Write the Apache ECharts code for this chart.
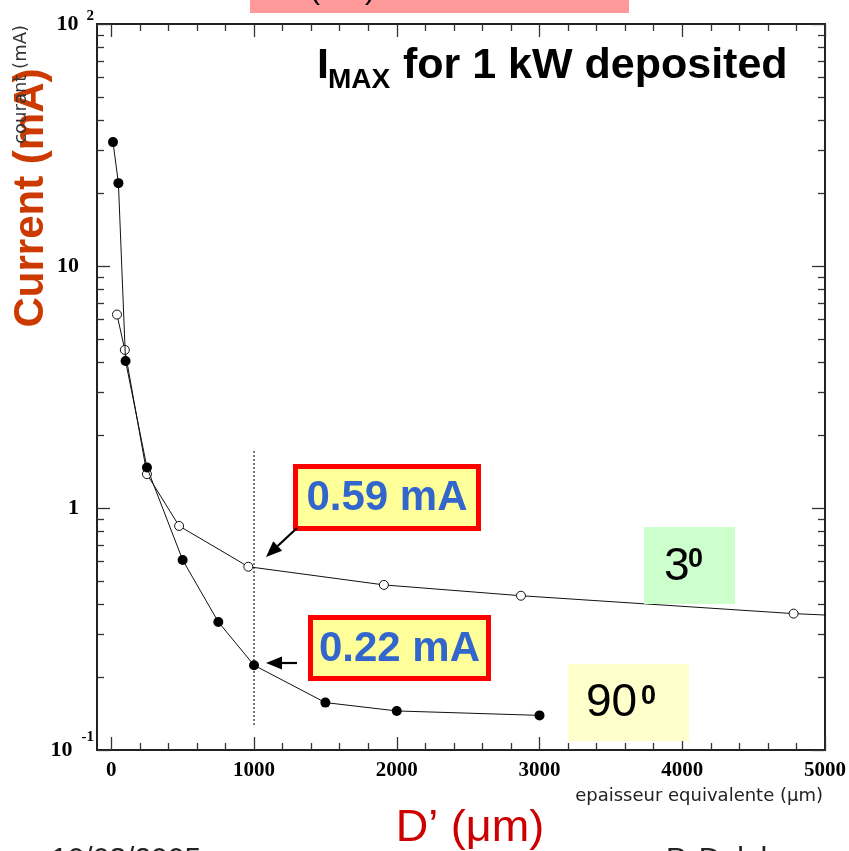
<!DOCTYPE html>
<html><head><meta charset="utf-8">
<script src="https://cdn.jsdelivr.net/npm/echarts@6/dist/echarts.min.js"></script>
<style>html,body{margin:0;padding:0;background:#fff}#c{width:849px;height:851px}</style>
</head><body><div id="c"></div>
<script>
// ---- data ----
const xMajorTicks = [0, 1000, 2000, 3000, 4000, 5000];
const xMinorTicks = [200, 400, 600, 800, 1200, 1400, 1600, 1800, 2200, 2400, 2600, 2800,
                     3200, 3400, 3600, 3800, 4200, 4400, 4600, 4800];
const yMajorTicks = [0.1, 1, 10, 100];
const yMinorTicks = [0.2, 0.3, 0.4, 0.5, 0.6, 0.7, 0.8, 0.9,
                     2, 3, 4, 5, 6, 7, 8, 9,
                     20, 30, 40, 50, 60, 70, 80, 90];
const thick90 = [12, 50, 100, 250, 500, 750, 1000, 1500, 2000, 3000];
const current90 = [32.5, 22, 4.05, 1.47, 0.61, 0.338, 0.224, 0.157, 0.145, 0.139];
const thick3 = [40, 95, 250, 475, 960, 1910, 2870, 4780, 5200];
const current3 = [6.3, 4.5, 1.38, 0.843, 0.572, 0.481, 0.434, 0.366, 0.357];
const guideX = [1000, 1000];
const guideY = [1.72, 0.127];

const chart = echarts.init(document.getElementById('c'), null, {renderer: 'canvas'});
const AX = '#222', TK = '#333';
const serifB = {fontFamily: 'Liberation Serif', fontWeight: 'bold', color: '#000'};

function xAxisDef(pos, ticks, len, withLabel) {
  return {
    type: 'value', position: pos, min: -100, max: 5000,
    axisLine: {show: true, onZero: false, lineStyle: {color: AX, width: 2}},
    axisTick: {show: true, inside: true, length: len, customValues: ticks, lineStyle: {color: TK, width: 1.3}},
    axisLabel: withLabel ? Object.assign({show: true, customValues: xMajorTicks, fontSize: 21, margin: 10,
      formatter: function (v) { return String(Math.round(v)); }}, serifB) : {show: false},
    splitLine: {show: false}
  };
}
function yAxisDef(pos, ticks, len, withLabel) {
  return {
    type: 'log', logBase: 10, position: pos, min: 0.1, max: 100,
    axisLine: {show: true, onZero: false, lineStyle: {color: AX, width: 2}},
    axisTick: {show: true, inside: true, length: len, customValues: ticks, lineStyle: {color: TK, width: 1.3}},
    axisLabel: withLabel ? {
      show: true, margin: 3,
      formatter: function (v) {
        if (v > 50) return '{n|10}{s2|2}';
        if (v > 5) return '{n|10}{p|}';
        if (v > 0.5) return '{n|1}{p|}';
        return '{n|10}{s1|-1}';
      },
      rich: {
        n: Object.assign({fontSize: 22, lineHeight: 22, verticalAlign: 'bottom'}, serifB),
        s2: Object.assign({fontSize: 15, lineHeight: 15, padding: [0, 0, 11, 8], verticalAlign: 'bottom'}, serifB),
        s1: Object.assign({fontSize: 15, lineHeight: 15, padding: [0, 0, 16, 9], verticalAlign: 'bottom'}, serifB),
        p: {width: 15}
      }
    } : {show: false},
    splitLine: {show: false}
  };
}

function arrowHead(tip, from, len, hw) {
  const dx = tip[0] - from[0], dy = tip[1] - from[1];
  const L = Math.sqrt(dx * dx + dy * dy);
  const ux = dx / L, uy = dy / L;
  const bx = tip[0] - ux * len, by = tip[1] - uy * len;
  return {base: [bx, by], pts: [tip, [bx - uy * hw, by + ux * hw], [bx + uy * hw, by - ux * hw]]};
}
function arrow(from, tip) {
  const h = arrowHead(tip, from, 16, 6.5);
  return [
    {type: 'line', z: 100, shape: {x1: from[0], y1: from[1], x2: h.base[0], y2: h.base[1]}, style: {stroke: '#000', lineWidth: 2.2}},
    {type: 'polygon', z: 100, shape: {points: h.pts}, style: {fill: '#000'}}
  ];
}
function valueBox(x, y, w, h, txt) {
  return [
    {type: 'rect', z: 90, shape: {x: x, y: y, width: w, height: h}, style: {fill: '#ffff99', stroke: '#ff0000', lineWidth: 5}},
    {type: 'text', z: 91, x: x + w / 2, y: y + h / 2 + 1,
     style: {text: txt, fill: '#3366cc', font: 'bold 42px "Liberation Sans", Arial, sans-serif', align: 'center', verticalAlign: 'middle'}}
  ];
}

const graphics = [].concat(
  // pink banner at top (cut off)
  [{type: 'rect', z: 5, shape: {x: 250, y: 0, width: 379, height: 13}, style: {fill: '#ff9999'}},
   {type: 'text', z: 6, x: 310, y: 6, style: {text: '(mA)', fill: '#000', font: '30px "Liberation Sans", Arial', align: 'left', verticalAlign: 'bottom'}}],
  // title
  [{type: 'text', z: 50, x: 317, y: 66, style: {text: 'I', fill: '#000', font: 'bold 43px "Liberation Sans", Arial', verticalAlign: 'middle'}},
   {type: 'text', z: 50, x: 328, y: 80, style: {text: 'MAX', fill: '#000', font: 'bold 28px "Liberation Sans", Arial', verticalAlign: 'middle'}},
   {type: 'text', z: 50, x: 391, y: 66, style: {text: ' for 1 kW deposited', fill: '#000', font: 'bold 43px "Liberation Sans", Arial', verticalAlign: 'middle'}}],
  // axis titles
  [{type: 'text', z: 50, x: 31, y: 198, rotation: Math.PI / 2,
    style: {text: 'Current (mA)', fill: '#cc3a00', font: 'bold 42px "Liberation Sans", Arial', align: 'center', verticalAlign: 'middle'}},
   {type: 'text', z: 51, x: 21, y: 25, rotation: Math.PI / 2,
    style: {text: 'courant (mA)', fill: '#333', font: '18px "DejaVu Sans", sans-serif', align: 'right', verticalAlign: 'middle'}},
   {type: 'text', z: 50, x: 823, y: 796,
    style: {text: 'epaisseur equivalente (\u03bcm)', fill: '#222', font: '18px "DejaVu Sans", sans-serif', align: 'right', verticalAlign: 'middle'}},
   {type: 'text', z: 50, x: 470, y: 829,
    style: {text: 'D\u2019 (\u03bcm)', fill: '#cc0000', font: '45px "Liberation Sans", Arial', align: 'center', verticalAlign: 'middle'}},
   {type: 'text', z: 50, x: 51, y: 845,
    style: {text: '10/03/2005', fill: '#222', font: '30px "Liberation Sans", Arial', align: 'left', verticalAlign: 'top'}},
   {type: 'text', z: 50, x: 666, y: 845,
    style: {text: 'P. Delahaye', fill: '#222', font: '30px "Liberation Sans", Arial', align: 'left', verticalAlign: 'top'}}],
  // value boxes and arrows
  valueBox(295.5, 466.5, 183, 62, '0.59 mA'),
  valueBox(310.5, 617.5, 178, 61, '0.22 mA'),
  arrow([297, 528], [266, 557]),
  arrow([297, 663], [266, 663]),
  // angle labels
  [{type: 'rect', z: 40, shape: {x: 644, y: 527, width: 91, height: 77}, style: {fill: '#ccffcc'}},
   {type: 'text', z: 41, x: 664, y: 567, style: {text: '3', fill: '#000', font: '46px "Liberation Sans", Arial', verticalAlign: 'middle'}},
   {type: 'text', z: 41, x: 688, y: 560, style: {text: '0', fill: '#000', font: 'bold 27px "Liberation Sans", Arial', verticalAlign: 'middle'}},
   {type: 'rect', z: 40, shape: {x: 568, y: 664, width: 121, height: 77}, style: {fill: '#ffffcc'}},
   {type: 'text', z: 41, x: 586, y: 703, style: {text: '90', fill: '#000', font: '46px "Liberation Sans", Arial', verticalAlign: 'middle'}},
   {type: 'text', z: 41, x: 641, y: 697, style: {text: '0', fill: '#000', font: 'bold 27px "Liberation Sans", Arial', verticalAlign: 'middle'}}]
);

const option = {
  backgroundColor: '#fff',
  animation: false,
  grid: {left: 97, right: 24, top: 24, bottom: 101, containLabel: false},
  xAxis: [
    xAxisDef('bottom', xMajorTicks, 13, true),
    xAxisDef('bottom', xMinorTicks, 7, false),
    xAxisDef('top', xMajorTicks, 13, false),
    xAxisDef('top', xMinorTicks, 7, false)
  ],
  yAxis: [
    yAxisDef('left', yMajorTicks, 13, true),
    yAxisDef('left', yMinorTicks, 7, false),
    yAxisDef('right', yMajorTicks, 13, false),
    yAxisDef('right', yMinorTicks, 7, false)
  ],
  series: [
    {
      name: '3 deg', type: 'line', xAxisIndex: 0, yAxisIndex: 0, clip: true, z: 20,
      data: thick3.map((x, i) => [x, current3[i]]),
      symbol: 'circle', symbolSize: 9, showAllSymbol: true,
      lineStyle: {color: '#111', width: 1},
      itemStyle: {color: '#fff', borderColor: '#111', borderWidth: 1}
    },
    {
      name: '90 deg', type: 'line', xAxisIndex: 0, yAxisIndex: 0, clip: true, z: 21,
      data: thick90.map((x, i) => [x, current90[i]]),
      symbol: 'circle', symbolSize: 10, showAllSymbol: true,
      lineStyle: {color: '#111', width: 1},
      itemStyle: {color: '#000', borderColor: '#000', borderWidth: 0}
    },
    {
      name: 'guide', type: 'line', xAxisIndex: 0, yAxisIndex: 0, z: 10,
      data: guideX.map((x, i) => [x, guideY[i]]),
      symbol: 'none', lineStyle: {color: '#222', width: 1.2, type: [2, 2]}
    }
  ],
  graphic: graphics
};
chart.setOption(option);
</script>
</body></html>
